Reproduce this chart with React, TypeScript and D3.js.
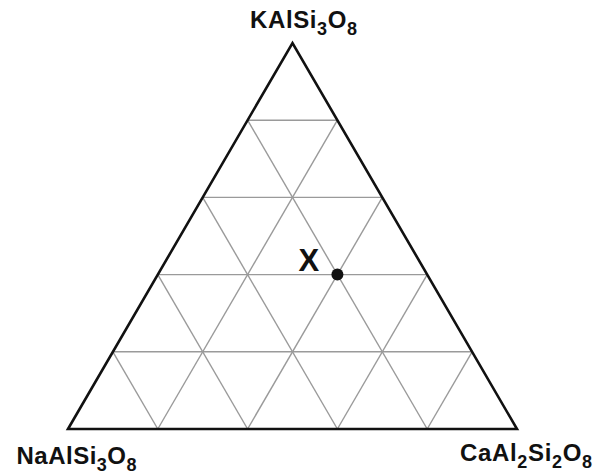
import React from "react";
import * as d3 from "d3";

// end members, each label split into [text, isSubscript] parts
const apexNames = ["NaAlSi3O8", "KAlSi3O8", "CaAl2Si2O8"];
const apexLabelParts: [string, boolean][][] = [
  [["NaAlSi", false], ["3", true], ["O", false], ["8", true]],
  [["KAlSi", false], ["3", true], ["O", false], ["8", true]],
  [["CaAl", false], ["2", true], ["Si", false], ["2", true], ["O", false], ["8", true]],
];

// grid fractions (every 20%)
const gridSteps = [0.2, 0.4, 0.6, 0.8];

// sample composition(s)
const sampleNames = ["X"];
const sampleNa = [0.2];
const sampleK = [0.4];
const sampleCa = [0.4];

const width = 596;
const height = 474;

const App = () => {
  // K fraction -> vertical, Ca along base
  const yK = d3.scaleLinear().domain([0, 1]).range([429, 43]);
  const xBase = d3.scaleLinear().domain([0, 1]).range([68, 517]);
  const xApex = 292.5;

  const project = (na: number, k: number, ca: number) => {
    const s = na + k + ca;
    const kk = k / s;
    const cc = ca / s;
    const nn = na / s;
    const x = nn * xBase(0) + cc * xBase(1) + kk * xApex;
    return [x, yK(kk)];
  };

  const corners = [project(1, 0, 0), project(0, 1, 0), project(0, 0, 1)];
  const line = d3.line();

  const gridLines: [number, number][][] = [];
  gridSteps.forEach((t) => {
    // constant K
    gridLines.push([project(1 - t, t, 0), project(0, t, 1 - t)] as any);
    // constant Na
    gridLines.push([project(t, 1 - t, 0), project(t, 0, 1 - t)] as any);
    // constant Ca
    gridLines.push([project(1 - t, 0, t), project(0, 1 - t, t)] as any);
  });

  // label placement (left edge, baseline, width)
  const labelPos = [
    { x: 16.5, y: 464, w: 120 },
    { x: 250, y: 28, w: 107 },
    { x: 460, y: 461, w: 132 },
  ];

  const renderLabel = (parts: [string, boolean][]) => {
    const out: React.ReactNode[] = [];
    let sub = false;
    parts.forEach(([txt, isSub], i) => {
      let dy = 0;
      if (isSub && !sub) dy = 7;
      if (!isSub && sub) dy = -7;
      sub = isSub;
      out.push(
        <tspan key={i} dy={dy} fontSize={isSub ? 18 : 24}>
          {txt}
        </tspan>
      );
    });
    return out;
  };

  return (
    <svg
      width={width}
      height={height}
      style={{ position: "absolute", left: 0, top: 0, background: "#fff" }}
      fontFamily="'Liberation Sans', Arial, sans-serif"
    >
      <g>
        {gridLines.map((l, i) => (
          <path key={i} d={line(l) || ""} stroke="#9a9a9a" strokeWidth={1.4} fill="none" />
        ))}
      </g>
      <path
        d={(line(corners as [number, number][]) || "") + "Z"}
        fill="none"
        stroke="#111"
        strokeWidth={2.6}
        strokeLinejoin="miter"
      />
      {apexNames.map((name, i) => (
        <text
          key={name}
          x={labelPos[i].x}
          y={labelPos[i].y}
          textLength={labelPos[i].w}
          lengthAdjust="spacing"
          fontWeight="bold"
          fill="#111"
        >
          {renderLabel(apexLabelParts[i])}
        </text>
      ))}
      {sampleNames.map((name, i) => {
        const [px, py] = project(sampleNa[i], sampleK[i], sampleCa[i]);
        return (
          <g key={name}>
            <circle cx={px} cy={py} r={6} fill="#111" />
            <text x={px - 39} y={py - 4} fontSize={31} fontWeight="bold" fill="#111">
              {name}
            </text>
          </g>
        );
      })}
    </svg>
  );
};

export default App;
